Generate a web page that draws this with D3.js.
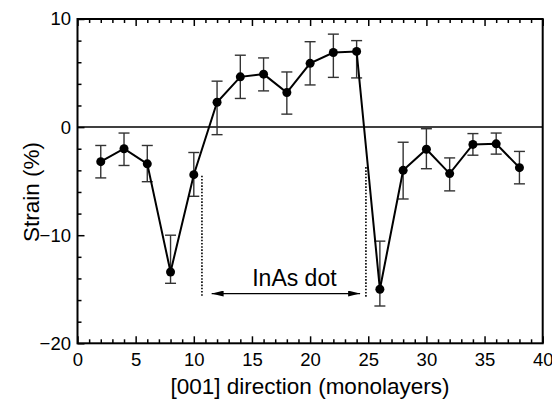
<!DOCTYPE html>
<html><head><meta charset="utf-8">
<script src="https://cdn.jsdelivr.net/npm/d3@7"></script>
<style>body{margin:0;background:#fff}svg{display:block}text{font-family:"Liberation Sans",Arial,sans-serif;fill:#000}</style>
</head><body><svg id="c" width="552" height="401"></svg>
<script>
const positions = [2,4,6,8,10,12,14,16,18,20,22,24,26,28,30,32,34,36,38];
const strain    = [-3.2,-2.0,-3.4,-13.4,-4.4,2.3,4.65,4.9,3.2,5.9,6.9,7.0,-15.0,-4.0,-2.05,-4.3,-1.6,-1.55,-3.75];
const errHigh   = [-1.7,-0.55,-1.7,-10.0,-2.35,4.25,6.65,6.4,5.1,7.9,8.6,8.0,-10.55,-1.4,-0.15,-2.85,-0.6,-0.55,-2.25];
const errLow    = [-4.7,-3.55,-5.05,-14.45,-6.4,-0.7,2.65,3.35,1.2,3.9,4.6,4.55,-16.55,-6.65,-3.85,-5.9,-2.6,-2.5,-5.25];
const xTickLabels = [0,5,10,15,20,25,30,35,40];
const yTickLabels = [-20,-10,0,10];
const dotBounds = [10.7, 24.8];

(function(){
const svg = d3.select("#c");
const m = {l:77.5, r:542.7, t:19, b:343.3};
const x = d3.scaleLinear().domain([0,40]).range([m.l,m.r]);
const y = d3.scaleLinear().domain([-20,10]).range([m.b,m.t]);

const g = svg.append("g");
g.append("g").attr("transform",`translate(0,${m.b})`)
  .call(d3.axisBottom(x).tickValues(xTickLabels).tickSize(-7).tickPadding(10).tickFormat(d3.format("d")));
g.append("g").attr("transform",`translate(0,${m.b})`)
  .call(d3.axisBottom(x).tickValues(d3.range(0,41).filter(v=>v%5)).tickSize(-4).tickFormat(""));
g.append("g").attr("transform",`translate(0,${m.t})`)
  .call(d3.axisTop(x).tickValues(xTickLabels).tickSize(-7).tickFormat(""));
g.append("g").attr("transform",`translate(0,${m.t})`)
  .call(d3.axisTop(x).tickValues(d3.range(0,41).filter(v=>v%5)).tickSize(-4).tickFormat(""));
g.append("g").attr("transform",`translate(${m.l},0)`)
  .call(d3.axisLeft(y).tickValues(yTickLabels).tickSize(-7).tickPadding(6.5).tickFormat(d3.format("d")));
g.append("g").attr("transform",`translate(${m.l},0)`)
  .call(d3.axisLeft(y).tickValues(d3.range(-20,11,2).filter(v=>v%10)).tickSize(-4).tickFormat(""));
g.selectAll(".domain").remove();
g.selectAll(".tick line").attr("stroke","#000").attr("stroke-width",1.5);
g.selectAll(".tick text").style("font-size","18.5px").attr("fill","#000");

svg.append("rect").attr("x",m.l).attr("y",m.t).attr("width",m.r-m.l).attr("height",m.b-m.t)
  .attr("fill","none").attr("stroke","#000").attr("stroke-width",2);
svg.append("line").attr("x1",m.l).attr("x2",m.r).attr("y1",y(0)).attr("y2",y(0))
  .attr("stroke","#000").attr("stroke-width",1.5);

const dotTop = [-4.5,-3.7];
svg.selectAll(".bnd").data(dotBounds).join("line")
  .attr("x1",d=>x(d)).attr("x2",d=>x(d))
  .attr("y1",(d,i)=>y(dotTop[i])).attr("y2",y(-15.7))
  .attr("stroke","#000").attr("stroke-width",1.6).attr("stroke-dasharray","1.6,1.6");

const defs = svg.append("defs");
defs.append("marker").attr("id","ah").attr("viewBox","0 0 12 6").attr("refX",12).attr("refY",3)
  .attr("markerWidth",12).attr("markerHeight",6).attr("markerUnits","userSpaceOnUse").attr("orient","auto-start-reverse")
  .append("path").attr("d","M0,0L12,3L0,6Z").attr("fill","#000");
svg.append("line").attr("x1",x(11.535)).attr("x2",x(24.3)).attr("y1",y(-15.4)).attr("y2",y(-15.4))
  .attr("stroke","#000").attr("stroke-width",1.3)
  .attr("marker-start","url(#ah)").attr("marker-end","url(#ah)");
svg.append("text").attr("x",x(18.65)).attr("y",y(-14.7)).attr("text-anchor","middle")
  .style("font-size","23px").text("InAs dot");

const eb = svg.append("g").attr("stroke","#333").attr("stroke-width",1.4);
positions.forEach((p,i)=>{
  eb.append("line").attr("x1",x(p)).attr("x2",x(p)).attr("y1",y(errHigh[i])).attr("y2",y(errLow[i]));
  eb.append("line").attr("x1",x(p)-5.5).attr("x2",x(p)+5.5).attr("y1",y(errHigh[i])).attr("y2",y(errHigh[i]));
  eb.append("line").attr("x1",x(p)-5.5).attr("x2",x(p)+5.5).attr("y1",y(errLow[i])).attr("y2",y(errLow[i]));
});

const pts = positions.map((p,i)=>[p,strain[i]]);
svg.append("path").datum(pts).attr("fill","none").attr("stroke","#000").attr("stroke-width",2)
  .attr("d",d3.line().x(d=>x(d[0])).y(d=>y(d[1])));
svg.selectAll(".pt").data(pts).join("circle").attr("cx",d=>x(d[0])).attr("cy",d=>y(d[1])).attr("r",4.5).attr("fill","#000");

svg.append("text").attr("x",310).attr("y",394).attr("text-anchor","middle")
  .style("font-size","22.5px").text("[001] direction (monolayers)");
svg.append("text").attr("transform",`translate(39,${y(-6)}) rotate(-90)`).attr("text-anchor","middle")
  .style("font-size","22.5px").text("Strain (%)");
})();
</script></body></html>
